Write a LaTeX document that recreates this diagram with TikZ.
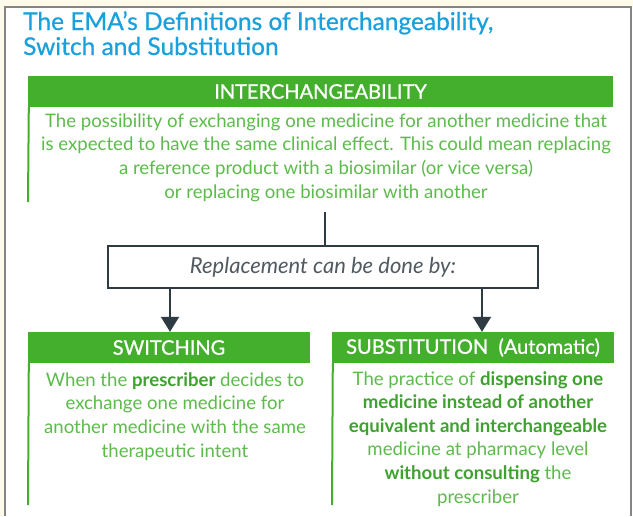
\documentclass[tikz,border=0pt]{standalone}
\usepackage{fontspec}
\setmainfont{Lato}
\usetikzlibrary{arrows.meta}

\definecolor{bargreen}{HTML}{44AF2C}
\definecolor{txtgreen}{HTML}{5DBB4C}
\definecolor{boldgreen}{HTML}{3FA12F}
\definecolor{titleblue}{HTML}{1AA0DC}
\definecolor{framegray}{HTML}{858585}
\definecolor{paper}{HTML}{FFFBEA}
\definecolor{slate}{HTML}{2F3B42}
\definecolor{italgray}{HTML}{505A60}

\newcommand{\hb}[1]{\textbf{\color{boldgreen}#1}}

\tikzset{
  headbar/.style={fill=bargreen, text=white, minimum height=31pt, inner sep=0pt,
    font=\fontsize{20}{22}\selectfont\addfontfeature{FakeBold=0.9}},
  bodytext/.style={text=txtgreen, align=center, inner sep=0pt,
    font=\fontsize{18.6}{23.6}\selectfont},
  sideline/.style={draw=bargreen, line width=2pt},
  replbox/.style={draw=slate, line width=1.6pt, fill=white, minimum width=430pt,
    minimum height=42pt, inner sep=0pt, text=italgray,
    font=\fontsize{22}{24}\selectfont\itshape},
  conn/.style={draw=slate, line width=1.8pt},
  arr/.style={conn, -{Triangle[width=18pt,length=15pt]}},
}

\begin{document}
\begin{tikzpicture}[x=1pt,y=-1pt]
  % page and frame
  \fill[paper] (0,0) rectangle (633,516);
  \fill[white] (5,7) rectangle (633,516);
  \draw[framegray, line width=1.5pt] (5,516) -- (5,7) -- (631,7) -- (631,516);
  \useasboundingbox (0,0) rectangle (633,516);

  % title (base anchor sits on the last line)
  \node[anchor=base west, inner sep=0pt, align=left, text=titleblue,
        font=\fontsize{24.5}{25}\selectfont\addfontfeature{FakeBold=0.7}] (title) at (23,55)
    {The EMA’s Definitions of Interchangeability,\\Switch and Substitution};

  % interchangeability block
  \node[headbar, minimum width=585pt] (ihead) at (320.5,91.5) {INTERCHANGEABILITY};
  \coordinate (iend) at (28,202);
  \draw[sideline] (ihead.south west) ++(1,0) -- (iend);
  \node[bodytext, anchor=base] (ibody) at (326,198)
    {The possibility of exchanging one medicine for another medicine that\\
     is expected to have the same clinical effect. This could mean replacing\\
     a reference product with a biosimilar (or vice versa)\\
     or replacing one biosimilar with another};

  % replacement box
  \node[replbox] (repl) at (323,267) {Replacement can be done by:};
  \coordinate (ctop) at (325,212);
  \draw[conn] (ctop) -- (ctop |- repl.north);

  % switching block
  \node[headbar, minimum width=282pt] (swhead) at (169,347.5) {SWITCHING};
  \coordinate (swend) at (28,505);
  \draw[sideline] (swhead.south west) ++(1,0) -- (swend);
  \node[bodytext, anchor=base] (swbody) at (175,457)
    {When the \hb{prescriber} decides to\\
     exchange one medicine for\\
     another medicine with the same\\
     therapeutic intent};

  % substitution block
  \node[headbar, minimum width=282pt] (subhead) at (473,347.5) {SUBSTITUTION\ \ (Automatic)};
  \coordinate (subend) at (332,505);
  \draw[sideline] (subhead.south west) ++(1,0) -- (subend);
  \node[bodytext, anchor=base] (subbody) at (478,503)
    {The practice of \hb{dispensing one}\\
     \hb{medicine instead of another}\\
     \hb{equivalent and interchangeable}\\
     medicine at pharmacy level\\
     \hb{without consulting} the\\
     prescriber};

  % arrows
  \coordinate (aleft) at (170,0);
  \coordinate (aright) at (482,0);
  \draw[arr] (aleft |- repl.south) -- (aleft |- swhead.north);
  \draw[arr] (aright |- repl.south) -- (aright |- subhead.north);
\end{tikzpicture}
\end{document}
